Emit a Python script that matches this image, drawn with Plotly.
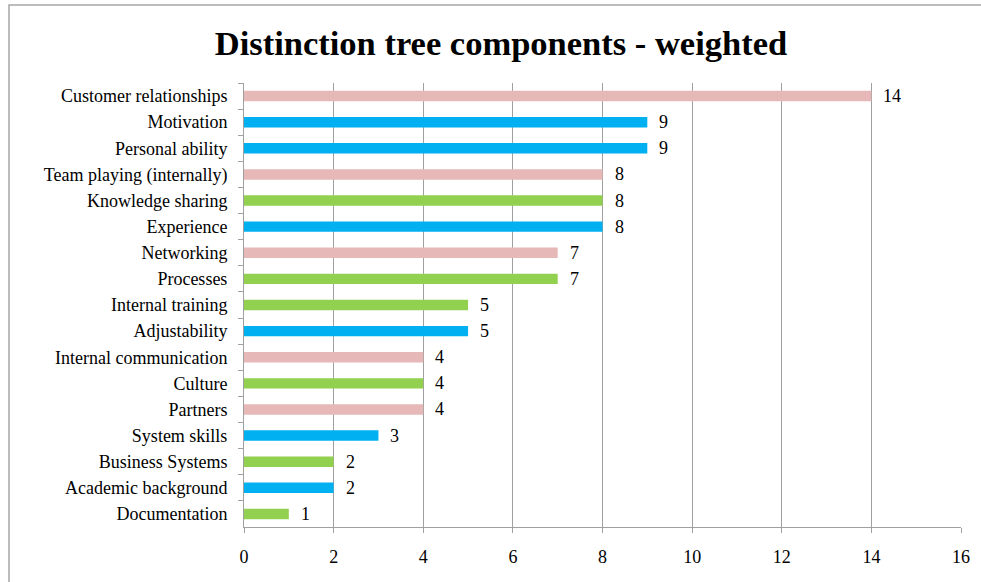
import plotly.graph_objects as go

categories = ["Customer relationships", "Motivation", "Personal ability", "Team playing (internally)",
              "Knowledge sharing", "Experience", "Networking", "Processes", "Internal training",
              "Adjustability", "Internal communication", "Culture", "Partners", "System skills",
              "Business Systems", "Academic background", "Documentation"]
values = [14, 9, 9, 8, 8, 8, 7, 7, 5, 5, 4, 4, 4, 3, 2, 2, 1]
groups = ["pink", "blue", "blue", "pink", "green", "blue", "pink", "green", "green",
          "blue", "pink", "green", "pink", "blue", "green", "blue", "green"]
palette = {"pink": "#E6B9B8", "blue": "#00B0F0", "green": "#92D050"}
x_ticks = [0, 2, 4, 6, 8, 10, 12, 14, 16]

FONT = "Liberation Serif, Times New Roman, serif"
FS = 18

fig = go.Figure()
fig.add_trace(go.Bar(
    y=categories, x=values, orientation="h",
    marker=dict(color=[palette[g] for g in groups], line=dict(width=0)),
    width=0.4, hoverinfo="x+y",
))

for c, v in zip(categories, values):
    fig.add_annotation(x=v, y=c, text=str(v), showarrow=False, xanchor="left",
                       xshift=10, font=dict(family=FONT, size=FS, color="black"))

L, R, T, B = 244, 20, 83, 55
W, H = 981, 582
pw, ph = W - L - R, H - T - B

fig.add_shape(type="rect", xref="paper", yref="paper",
              x0=(9 - L) / pw, x1=(W + 20 - L) / pw,
              y0=-(B + 20) / ph, y1=(H - B - 5) / ph,
              line=dict(color="#A6A6A6", width=1.5), fillcolor="rgba(0,0,0,0)", layer="below")

fig.update_layout(
    width=W, height=H,
    margin=dict(l=L, r=R, t=T, b=B),
    paper_bgcolor="white", plot_bgcolor="white",
    showlegend=False,
    title=dict(text="<b>Distinction tree components - weighted</b>",
               x=501 / W, xanchor="center", xref="container",
               y=1 - 43 / H, yanchor="middle", yref="container",
               font=dict(family=FONT, size=34.5, color="black")),
    font=dict(family=FONT, size=FS, color="black"),
    xaxis=dict(range=[0, 16], tickvals=x_ticks, showgrid=True, gridcolor="#A0A0A0", gridwidth=1,
               showline=True, linecolor="#A0A0A0", linewidth=1, ticks="outside", ticklen=5,
               tickcolor="#A0A0A0", zeroline=False, ticklabelstandoff=8,
               tickfont=dict(family=FONT, size=FS, color="black")),
    yaxis=dict(autorange="reversed", type="category", showgrid=False, showline=True,
               linecolor="#A0A0A0", linewidth=1, ticks="outside", ticklen=5, tickcolor="#A0A0A0",
               tickson="boundaries", ticklabelstandoff=12,
               tickfont=dict(family=FONT, size=FS, color="black")),
)

fig.write_html("out.html")
